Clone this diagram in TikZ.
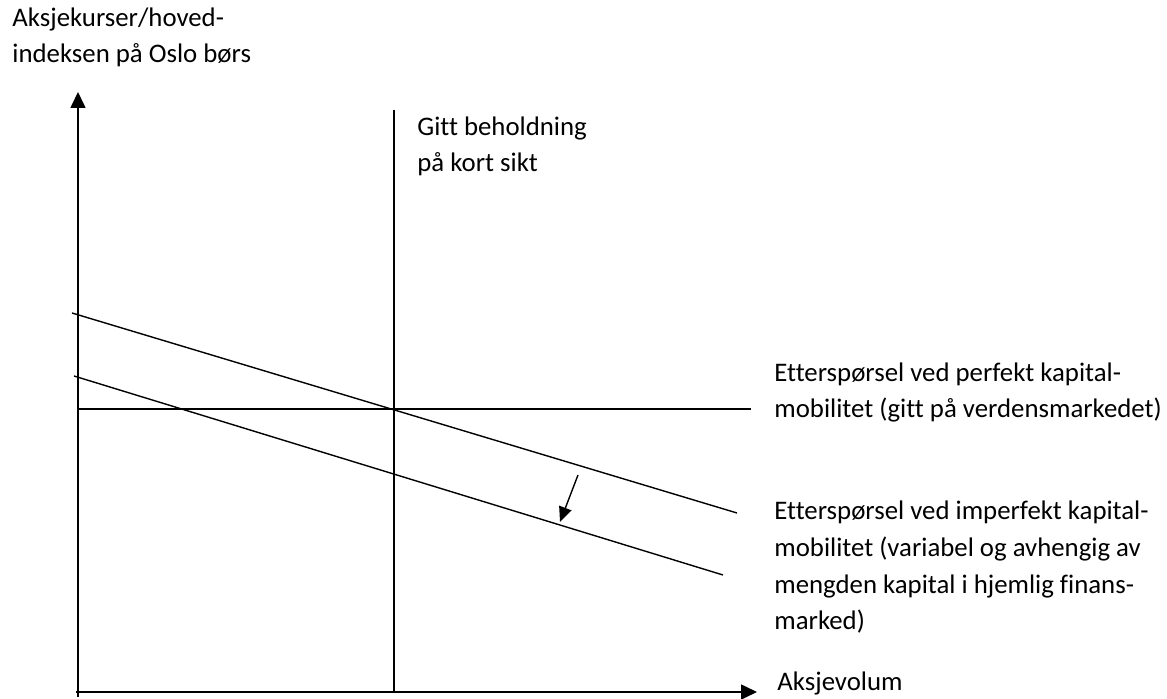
\documentclass[tikz,border=0pt]{standalone}
\usepackage{fontspec}
\setmainfont[Ligatures=NoCommon]{Carlito}
\usetikzlibrary{arrows.meta}

\begin{document}
\begin{tikzpicture}[x=0.5pt,y=-0.5pt,
    tekst/.style={anchor=base west,inner sep=0pt,align=left,
        font=\fontsize{13.4}{18.35}\selectfont},
    akse/.style={line width=0.8pt,-{Triangle[width=7.5pt,length=8pt]}},
    kurve/.style={line width=0.7pt}]
\useasboundingbox (0,0) rectangle (1167,699);

% akser
\coordinate (ybunn) at (78,697);
\coordinate (ytopp) at (78,92);
\coordinate (xstart) at (76,692);
\coordinate (xslutt) at (757,692);
\draw[akse] (ybunn) -- (ytopp);
\draw[akse] (xstart) -- (xslutt);

% gitt beholdning
\coordinate (beh1) at (394,110);
\coordinate (beh2) at (394,692);
\draw[kurve] (beh1) -- (beh2);

% perfekt kapitalmobilitet
\coordinate (perf1) at (78,409);
\coordinate (perf2) at (751,409);
\draw[kurve] (perf1) -- (perf2);

% imperfekt kapitalmobilitet
\coordinate (imp1) at (72,313);
\coordinate (imp2) at (737,513);
\coordinate (imp3) at (74,376);
\coordinate (imp4) at (723,575);
\draw[kurve] (imp1) -- (imp2);
\draw[kurve] (imp3) -- (imp4);

% skift
\coordinate (skift1) at (578,475);
\coordinate (skift2) at (560,522);
\draw[kurve,-{Triangle[width=6.5pt,length=7.5pt]}] (skift1) -- (skift2);

% tekster (base = siste linje)
\node[tekst] (yakse) at (12,63) {Aksjekurser/hoved-\\indeksen på Oslo børs};
\node[tekst] (beholdning) at (417,172) {Gitt beholdning\\på kort sikt};
\node[tekst] (perfekt) at (774,418) {Etterspørsel ved perfekt kapital-\\mobilitet (gitt på verdensmarkedet)};
\node[tekst] (imperfekt) at (774,630) {Etterspørsel ved imperfekt kapital-\\mobilitet (variabel og avhengig av\\mengden kapital i hjemlig finans-\\marked)};
\node[tekst] (xakse) at (777,690) {Aksjevolum};
\end{tikzpicture}
\end{document}
